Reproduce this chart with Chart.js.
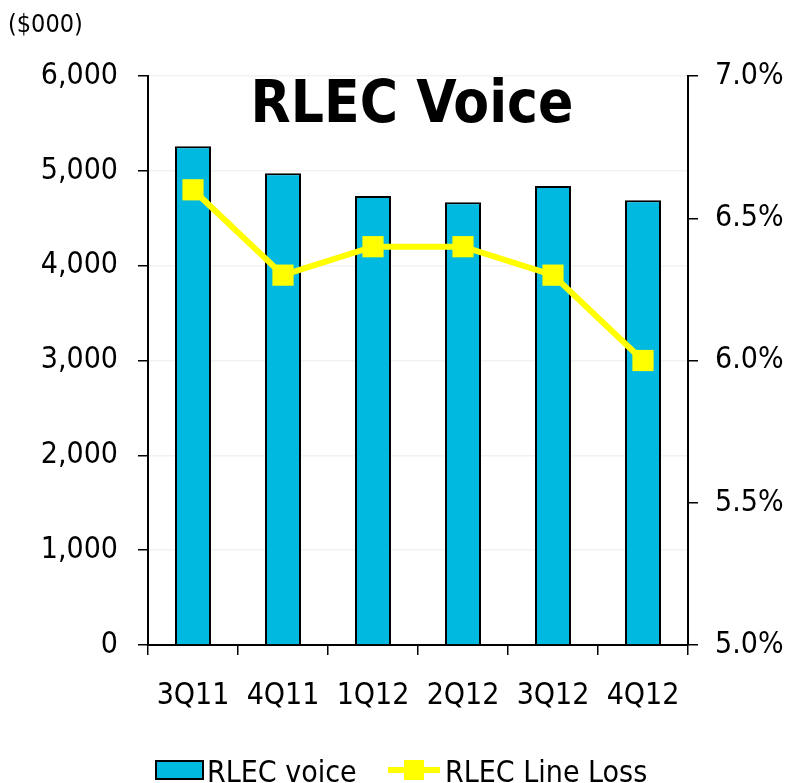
<!DOCTYPE html>
<html>
<head>
<meta charset="utf-8">
<script src="https://cdn.jsdelivr.net/npm/chart.js@4/dist/chart.umd.min.js"></script>
<style>
  html, body { margin: 0; padding: 0; background: #fff; }
  #wrap { width: 788px; height: 783px; position: relative; }
</style>
</head>
<body>
<div id="wrap"><canvas id="voiceChart" width="788" height="783"></canvas></div>
<script>
var quarters = ['3Q11', '4Q11', '1Q12', '2Q12', '3Q12', '4Q12'];
var voiceRevenue = [5260, 4975, 4735, 4670, 4840, 4690];
var lineLoss = [6.6, 6.3, 6.4, 6.4, 6.3, 6.0];

const FONT = '"DejaVu Sans Condensed", "DejaVu Sans", sans-serif';
const CYAN = '#00B9E1';
const YELLOW = '#FFFF00';

// title inside the plot, units label, and legend along the bottom
const extras = {
    id: 'extras',
    afterDraw: function (chart) {
        const ctx = chart.ctx;
        const bars = chart.data.datasets[1];
        const line = chart.data.datasets[0];
        ctx.save();
        ctx.fillStyle = '#000';
        ctx.textBaseline = 'alphabetic';

        ctx.font = 'bold 58px ' + FONT;
        ctx.textAlign = 'center';
        ctx.fillText('RLEC Voice', 412, 122);

        ctx.font = '25px ' + FONT;
        ctx.textAlign = 'left';
        ctx.fillText('($000)', 8, 32);

        // legend
        ctx.font = '30px ' + FONT;
        ctx.fillStyle = CYAN;
        ctx.strokeStyle = '#000';
        ctx.lineWidth = 2;
        ctx.fillRect(156, 761, 47, 18);
        ctx.strokeRect(156, 761, 47, 18);
        ctx.fillStyle = '#000';
        ctx.fillText(bars.label, 207, 782);

        ctx.strokeStyle = YELLOW;
        ctx.lineWidth = 6;
        ctx.beginPath();
        ctx.moveTo(388, 770);
        ctx.lineTo(440, 770);
        ctx.stroke();
        ctx.fillStyle = YELLOW;
        ctx.fillRect(404, 760, 20, 20);
        ctx.fillStyle = '#000';
        ctx.fillText(line.label, 445, 782);
        ctx.restore();
    }
};

const config = {
    type: 'bar',
    data: {
        labels: quarters,
        datasets: [{
            type: 'line',
            label: 'RLEC Line Loss',
            data: lineLoss,
            yAxisID: 'y1',
            borderColor: YELLOW,
            backgroundColor: YELLOW,
            borderWidth: 6,
            pointStyle: 'rect',
            pointRadius: 15,
            pointBorderWidth: 0,
            tension: 0,
            order: 0
        }, {
            label: 'RLEC voice',
            data: voiceRevenue,
            yAxisID: 'y',
            backgroundColor: CYAN,
            borderColor: '#000',
            borderWidth: 2,
            barPercentage: 0.4,
            categoryPercentage: 1,
            order: 1
        }]
    },
    options: {
        responsive: false,
        animation: false,
        layout: { padding: { top: 76, left: 0, right: 0, bottom: 0 } },
        plugins: {
            legend: { display: false },
            tooltip: { enabled: false }
        },
        scales: {
            x: {
                offset: true,
                grid: {
                    offset: true,
                    drawOnChartArea: false,
                    color: '#000',
                    tickLength: 10,
                    lineWidth: 1.5
                },
                border: { color: '#000', width: 2 },
                ticks: { color: '#000', font: { family: FONT, size: 30 }, padding: 23, maxRotation: 0 },
                afterFit: function (scale) { scale.height = 138; }
            },
            y: {
                position: 'left',
                min: 0,
                max: 6000,
                grid: {
                    color: '#f2f2f2',
                    tickColor: '#000',
                    tickLength: 10,
                    lineWidth: 1.5
                },
                border: { color: '#000', width: 2 },
                ticks: {
                    stepSize: 1000,
                    color: '#000',
                    padding: 20,
                    font: { family: FONT, size: 30 },
                    callback: function (v) { return v.toLocaleString('en-US'); }
                },
                afterFit: function (scale) { scale.width = 148; }
            },
            y1: {
                position: 'right',
                min: 5.0,
                max: 7.0,
                grid: {
                    drawOnChartArea: false,
                    color: '#000',
                    tickLength: 10,
                    lineWidth: 1.5
                },
                border: { color: '#000', width: 2 },
                ticks: {
                    stepSize: 0.5,
                    color: '#000',
                    padding: 17,
                    font: { family: FONT, size: 30 },
                    callback: function (v) { return v.toFixed(1) + '%'; }
                },
                afterFit: function (scale) { scale.width = 100; }
            }
        }
    },
    plugins: [extras]
};

const voiceChart = new Chart(document.getElementById('voiceChart'), config);
</script>
</body>
</html>
